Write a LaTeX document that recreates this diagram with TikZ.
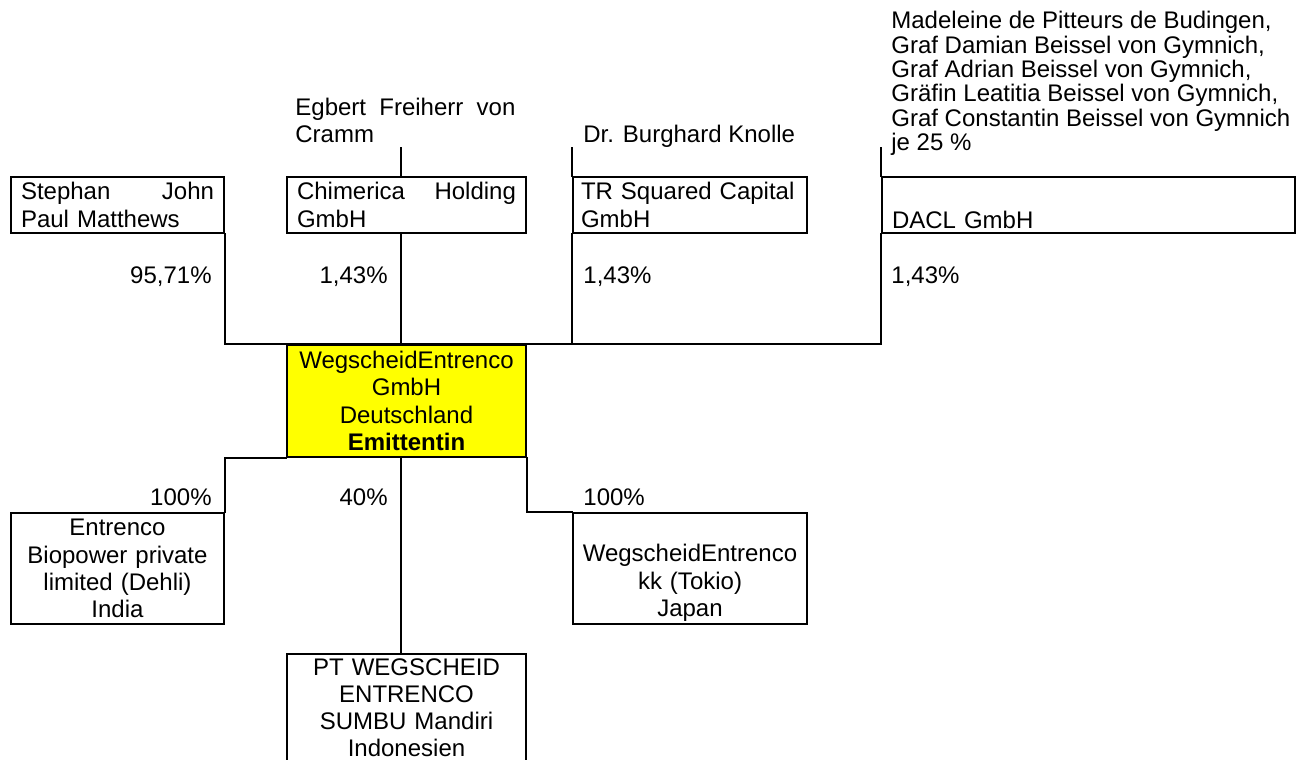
\documentclass[tikz,border=0pt]{standalone}
\usepackage{fontspec}
\setmainfont{Liberation Sans}
\usepackage{tikz}
\definecolor{ffffqq}{rgb}{1.,1.,0.}
\tikzstyle{every node}=[font=\fontsize{12pt}{13.6pt}\selectfont]

\begin{document}
\begin{tikzpicture}[line cap=rect,line join=miter,x=0.5pt,y=-0.5pt,
  box/.style={draw,line width=1pt,anchor=north west,inner xsep=5pt,inner ysep=0pt,minimum height=28pt},
  tallbox/.style={box,inner xsep=2pt,minimum height=55.5pt,align=center},
  txt/.style={inner sep=0pt},
  link/.style={line width=1pt}]
\useasboundingbox (0,0) rectangle (1301,760);
\clip (0,0) rectangle (1301,760);
% gesellschafter
\node[box,text width=96.5pt,align=left] (stephan) at (10,176) {Stephan \hfill John\\Paul Matthews};
\node[box,text width=109.5pt,align=left] (chimerica) at (286,176) {Chimerica \hfill Holding\\GmbH};
\node[box,inner xsep=4pt,text width=109pt,align=left] (trsq) at (572,176) {TR Squared Capital\\GmbH};
\node[box,text width=196.5pt,align=left] (dacl) at (881,176) {\strut\\DACL GmbH};
\node[txt,anchor=north west,text width=110pt,align=left] (egbert) at (295,97.8) {Egbert \hfill Freiherr \hfill von\\Cramm};
\node[txt,anchor=base west,inner ysep=3pt,text depth=0pt] (knolle) at (583,142) {Dr. Burghard Knolle};
\node[txt,anchor=north west,align=left,font=\fontsize{12pt}{12.2pt}\selectfont] (gymnich) at (891,11) {Madeleine de Pitteurs de Budingen,\\Graf Damian Beissel von Gymnich,\\Graf Adrian Beissel von Gymnich,\\Gräfin Leatitia Beissel von Gymnich,\\Graf Constantin Beissel von Gymnich\\je 25 \%};
% emittentin
\node[tallbox,fill=ffffqq,text width=115.5pt,minimum height=56pt] (emit) at (286,344) {WegscheidEntrenco\\GmbH\\Deutschland\\\textbf{Emittentin}};
% beteiligungen
\node[tallbox,text width=102.5pt] (entrenco) at (10,512) {Entrenco\\Biopower private\\limited (Dehli)\\India};
\node[tallbox,text width=113pt] (tokio) at (572,512) {\strut\\WegscheidEntrenco\\kk (Tokio)\\Japan};
\node[tallbox,text width=115.5pt,minimum height=56pt] (sumbu) at (286,653) {PT WEGSCHEID\\ENTRENCO\\SUMBU Mandiri\\Indonesien\rule[-2.5pt]{0pt}{0pt}};
% anteile
\node[txt,anchor=base east] (pstephan) at (212,283) {95,71\%};
\node[txt,anchor=base east] (pchimerica) at (388,283) {1,43\%};
\node[txt,anchor=base west] (ptrsq) at (583,283) {1,43\%};
\node[txt,anchor=base west] (pdacl) at (891,283) {1,43\%};
\node[txt,anchor=base east] (pentrenco) at (212,505) {100\%};
\node[txt,anchor=base east] (psumbu) at (388,505) {40\%};
\node[txt,anchor=base west] (ptokio) at (583,505) {100\%};
% linien
\draw [link] ([xshift=-3pt]chimerica.north) -- ([xshift=-3pt]chimerica.north |- knolle.south);
\draw [link] (trsq.north west) -- (trsq.north west |- knolle.south);
\draw [link] (dacl.north west) -- (dacl.north west |- knolle.south);
\draw [link] (stephan.south east) |- (emit.north) -| (dacl.south west);
\draw [link] ([xshift=-3pt]chimerica.south) -- ([xshift=-3pt]chimerica.south |- emit.north);
\draw [link] (trsq.south west) -- (trsq.south west |- emit.north);
\draw [link] (entrenco.north east) |- (emit.south west);
\draw [link] ([xshift=-3pt]emit.south) -- ([xshift=-3pt]emit.south |- sumbu.north);
\draw [link] (emit.south east) |- (tokio.north west);
\end{tikzpicture}
\end{document}
